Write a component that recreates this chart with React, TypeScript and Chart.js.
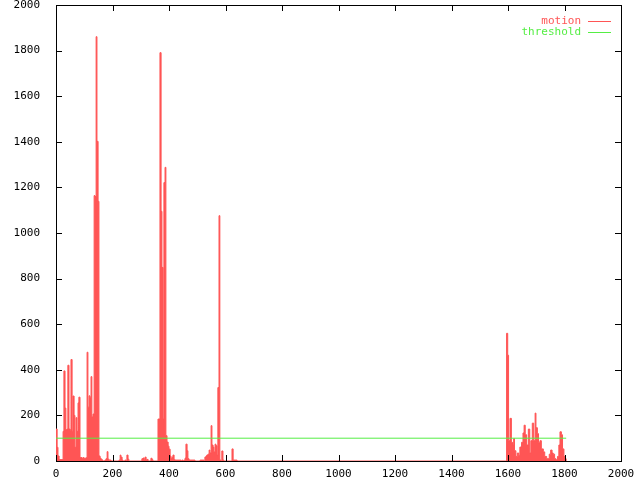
import React, { useEffect, useRef } from "react";
import { Chart, registerables } from "chart.js";

Chart.register(...registerables);

// ---- data (frame, motion) ----
const burst1X = [0, 4, 7, 11, 25, 28, 32, 35, 39, 42, 46, 50, 53, 57, 60, 64, 67, 71, 74, 78, 81, 85, 88, 92, 96, 99, 103, 106, 110, 113, 117, 120, 124, 127, 131, 135, 138, 142, 145, 149, 152, 156, 159];
const burst1Y = [140, 60, 22, 6, 130, 395, 232, 137, 140, 420, 140, 135, 445, 130, 285, 200, 60, 190, 130, 255, 280, 15, 15, 12, 15, 12, 12, 14, 477, 236, 286, 280, 370, 193, 206, 1164, 1160, 1861, 1402, 1139, 22, 13, 8];

const quiet1X = [163, 166, 173, 177, 181, 184, 188, 191, 195, 223, 227, 230, 234, 237, 244, 248, 251, 255, 258, 304, 308, 312, 315, 319, 322, 326, 336, 340, 343];
const quiet1Y = [4, 0, 4, 10, 41, 8, 0, 4, 0, 4, 26, 17, 4, 0, 4, 0, 26, 8, 0, 10, 13, 4, 17, 4, 7, 0, 12, 6, 0];

const burst2X = [361, 368, 372, 375, 379, 382, 386, 389, 393, 397, 400, 404, 407, 411, 414, 418, 421];
const burst2Y = [184, 1791, 1095, 849, 184, 1221, 1288, 111, 83, 65, 52, 22, 12, 17, 26, 6, 4];

const burst3X = [443, 446, 450, 453, 457, 460, 464, 467, 471, 492, 510, 524, 527, 531, 534, 538, 542, 545, 549, 552, 556, 559, 563, 566, 570, 573, 577, 580, 584, 587, 591, 594, 623, 627, 641];
const burst3Y = [0, 4, 0, 4, 13, 74, 45, 10, 4, 0, 4, 0, 17, 22, 26, 30, 48, 35, 155, 70, 61, 40, 74, 67, 26, 322, 1076, 4, 0, 44, 4, 0, 53, 4, 0];

const burst4X = [1595, 1599, 1602, 1607, 1612, 1616, 1620, 1623, 1628, 1633, 1638, 1642, 1648, 1653, 1657, 1661, 1666, 1672, 1677, 1681, 1686, 1691, 1696, 1699, 1704, 1708, 1713, 1718, 1725, 1730, 1737, 1746, 1751, 1756, 1760, 1765, 1770, 1775, 1780, 1784, 1789, 1793, 1798, 1803, 1806];
const burst4Y = [560, 464, 89, 187, 82, 70, 98, 45, 20, 35, 25, 61, 82, 123, 157, 115, 70, 140, 35, 89, 166, 89, 210, 146, 120, 80, 89, 53, 40, 20, 10, 30, 48, 35, 30, 10, 5, 20, 70, 128, 115, 53, 20, 10, 0];

const thresholdX = [0, 1806];
const thresholdY = [100, 100];

const axisMin = 0;
const axisMax = 2000;
const tickStep = 200;

const RED = "#ff5555";
const GREEN = "#55ee44";
const FONT = "11px 'DejaVu Sans Mono', monospace";

function pairs(xs: number[], ys: number[]) {
  return xs.map((x, i) => ({ x, y: ys[i] }));
}

const motionData = [
  ...pairs(burst1X, burst1Y),
  ...pairs(quiet1X, quiet1Y),
  ...pairs(burst2X, burst2Y),
  ...pairs(burst3X, burst3Y),
  ...pairs(burst4X, burst4Y),
];
const thresholdData = pairs(thresholdX, thresholdY);

const framePlugin = {
  id: "gpFrame",
  beforeDatasetsDraw(chart: any) {
    const { ctx, chartArea: a } = chart;
    ctx.save();
    ctx.strokeStyle = "#000";
    ctx.lineWidth = 1;
    ctx.strokeRect(Math.round(a.left) + 0.5, Math.round(a.top) + 0.5, Math.round(a.right - a.left), Math.round(a.bottom - a.top));
    ctx.restore();
  },
  afterDatasetsDraw(chart: any) {
    const { ctx, chartArea: a, scales } = chart;
    const len = 6;
    ctx.save();
    ctx.strokeStyle = "#000";
    ctx.lineWidth = 1;
    ctx.beginPath();
    for (let v = axisMin; v <= axisMax; v += tickStep) {
      const px = Math.round(scales.x.getPixelForValue(v)) + 0.5;
      ctx.moveTo(px, Math.round(a.bottom));
      ctx.lineTo(px, Math.round(a.bottom) - len);
      ctx.moveTo(px, Math.round(a.top));
      ctx.lineTo(px, Math.round(a.top) + len);
      const py = Math.round(scales.y.getPixelForValue(v)) + 0.5;
      ctx.moveTo(Math.round(a.left), py);
      ctx.lineTo(Math.round(a.left) + len, py);
      ctx.moveTo(Math.round(a.right), py);
      ctx.lineTo(Math.round(a.right) - len, py);
    }
    ctx.stroke();
    ctx.restore();
  },
  afterDraw(chart: any) {
    const { ctx, chartArea: a } = chart;
    ctx.save();
    ctx.font = FONT;
    ctx.textAlign = "right";
    ctx.textBaseline = "middle";
    const items = [chart.data.datasets[0], chart.data.datasets[1]];
    items.forEach((ds: any, i: number) => {
      const y = Math.round(a.top + 16 + i * 11);
      ctx.fillStyle = ds.borderColor;
      ctx.fillText(ds.label, a.right - 40, y + 0.5);
      ctx.fillRect(a.right - 33, y, 23, 1);
    });
    ctx.restore();
  },
};

export default function App() {
  const ref = useRef<HTMLCanvasElement>(null);
  useEffect(() => {
    const chart = new Chart(ref.current as HTMLCanvasElement, {
      type: "line",
      data: {
        datasets: [
          {
            label: "motion",
            data: motionData,
            borderColor: RED,
            backgroundColor: RED,
            borderWidth: 1,
            pointRadius: 0,
            stepped: true,
            fill: "origin",
            order: 1,
          },
          {
            label: "threshold",
            data: thresholdData,
            borderColor: GREEN,
            backgroundColor: GREEN,
            borderWidth: 1,
            pointRadius: 0,
            fill: false,
            order: 0,
          },
        ],
      },
      options: {
        responsive: false,
        animation: false,
        devicePixelRatio: 1,
        layout: { padding: { top: 5, right: 19, left: 0, bottom: 0 } },
        plugins: { legend: { display: false }, tooltip: { enabled: false } },
        scales: {
          x: {
            type: "linear",
            min: axisMin,
            max: axisMax,
            grid: { display: false },
            border: { display: false },
            ticks: {
              stepSize: tickStep,
              autoSkip: false,
              maxRotation: 0,
              padding: -1,
              color: "#000",
              font: { family: "'DejaVu Sans Mono', monospace", size: 11 },
              callback: (v: any) => String(v),
            },
            afterFit: (s: any) => {
              s.height = 19;
              s.paddingLeft = 0;
              s.paddingRight = 0;
            },
          },
          y: {
            type: "linear",
            min: axisMin,
            max: axisMax,
            grid: { display: false },
            border: { display: false },
            ticks: {
              stepSize: tickStep,
              autoSkip: false,
              padding: 8,
              color: "#000",
              font: { family: "'DejaVu Sans Mono', monospace", size: 11 },
              callback: (v: any) => String(v),
            },
            afterFit: (s: any) => {
              s.width = 56;
              s.paddingTop = 0;
              s.paddingBottom = 0;
            },
          },
        },
      },
      plugins: [framePlugin],
    } as any);
    return () => chart.destroy();
  }, []);
  return (
    <div style={{ position: "absolute", left: 0, top: 0, width: 640, height: 480, background: "#fff" }}>
      <canvas ref={ref} width={640} height={480} style={{ display: "block" }} />
    </div>
  );
}
